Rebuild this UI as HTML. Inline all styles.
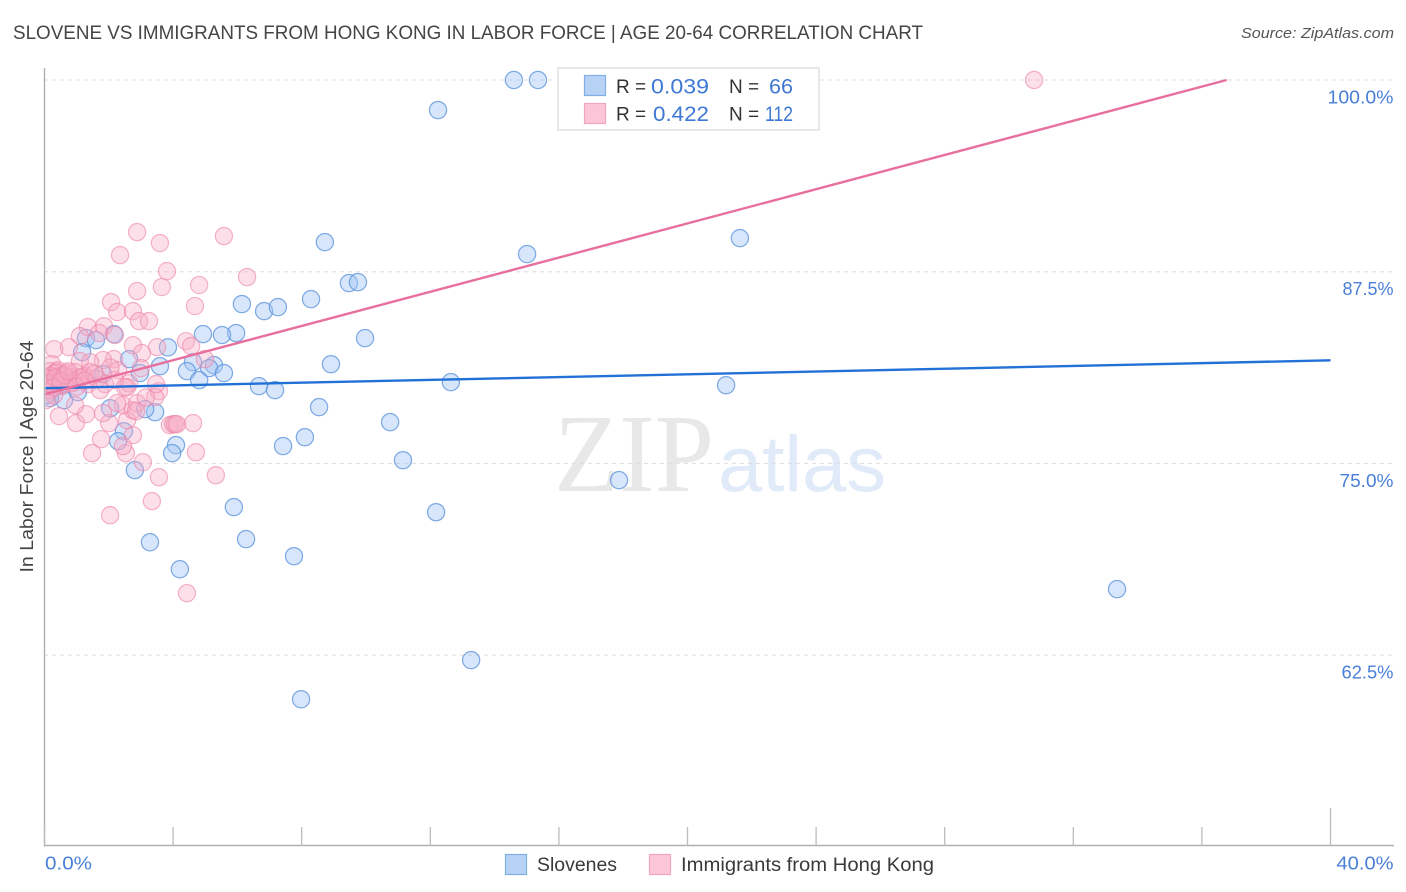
<!DOCTYPE html>
<html lang="en">
<head>
<meta charset="utf-8">
<title>Slovene vs Immigrants from Hong Kong in Labor Force | Age 20-64 Correlation Chart</title>
<style>
  html,body{margin:0;padding:0;background:#fff;}
  body{width:1406px;height:892px;overflow:hidden;}
  svg{display:block;font-family:"Liberation Sans",sans-serif;}
</style>
</head>
<body>
<svg id="chart" width="1406" height="892" viewBox="0 0 1406 892" xmlns="http://www.w3.org/2000/svg">
  <defs>
    <clipPath id="plot-clip"><rect x="45.5" y="60" width="1350" height="786"/></clipPath>
  </defs>
  <rect x="0" y="0" width="1406" height="892" fill="#ffffff"/>
  <text x="13" y="39" font-size="19.5" fill="#454545" textLength="910" lengthAdjust="spacingAndGlyphs">SLOVENE VS IMMIGRANTS FROM HONG KONG IN LABOR FORCE | AGE 20-64 CORRELATION CHART</text>
  <text x="1241" y="38" font-size="15" font-style="italic" fill="#555" textLength="153" lengthAdjust="spacingAndGlyphs">Source: ZipAtlas.com</text>

  <g id="watermark">
    <text x="554" y="491" font-family="'Liberation Serif',serif" font-size="111" fill="#e8e8e8" textLength="160" lengthAdjust="spacingAndGlyphs">ZIP</text>
    <text x="718" y="491" font-family="'Liberation Sans',sans-serif" font-size="79" fill="#e0eaf8" textLength="168" lengthAdjust="spacingAndGlyphs">atlas</text>
  </g>

  <g id="grid"></g>
  <g id="axes"></g>
  <text transform="translate(33,456.5) rotate(-90)" font-size="18.5" fill="#454545" text-anchor="middle" textLength="232" lengthAdjust="spacingAndGlyphs">In Labor Force | Age 20-64</text>

  <g clip-path="url(#plot-clip)">
    <g id="points-blue"></g>
    <g id="points-pink"></g>
    <path id="trend-blue" fill="none" stroke="#2271d6" stroke-width="2.4"/>
    <path id="trend-pink" fill="none" stroke="#e8709e" stroke-width="2.4"/>
  </g>

  <g id="legend-top">
    <rect x="558" y="68" width="261" height="62" fill="#ffffff" stroke="#dcdcdc" stroke-width="1.3"/>
    <rect x="584.5" y="75.5" width="21" height="20" fill="#b8d2f6" stroke="#82aee6" stroke-width="1.2"/>
    <rect x="584.5" y="103.5" width="21" height="20" fill="#fcc6d8" stroke="#f2a5be" stroke-width="1.2"/>
    <text x="616" y="93" font-size="19" fill="#333">R =</text>
    <text x="651" y="93.5" font-size="21" fill="#3d78d4" textLength="58" lengthAdjust="spacingAndGlyphs">0.039</text>
    <text x="729" y="93" font-size="19" fill="#333">N =</text>
    <text x="769" y="93.5" font-size="21" fill="#3d78d4" textLength="24" lengthAdjust="spacingAndGlyphs">66</text>
    <text x="616" y="120.5" font-size="19" fill="#333">R =</text>
    <text x="653" y="121" font-size="21" fill="#3d78d4" textLength="56" lengthAdjust="spacingAndGlyphs">0.422</text>
    <text x="729" y="120.5" font-size="19" fill="#333">N =</text>
    <text x="765" y="121" font-size="21" fill="#3d78d4" textLength="28" lengthAdjust="spacingAndGlyphs">112</text>
  </g>

  <g id="legend-bottom">
    <rect x="505.5" y="854.5" width="21" height="20" fill="#b8d2f6" stroke="#82aee6" stroke-width="1.2"/>
    <text x="537" y="871" font-size="19" fill="#3a3a3a" textLength="80" lengthAdjust="spacingAndGlyphs">Slovenes</text>
    <rect x="649.5" y="854.5" width="21" height="20" fill="#fcc6d8" stroke="#f2a5be" stroke-width="1.2"/>
    <text x="681" y="871" font-size="19" fill="#3a3a3a" textLength="253" lengthAdjust="spacingAndGlyphs">Immigrants from Hong Kong</text>
  </g>
</svg>

<script>
// Chart data (percent values)
const blueX = [14.60,15.35,12.24,8.72,15.01,21.63,9.47,9.75,8.29,6.14,6.83,7.26,9.97,5.96,5.52,4.93,2.16,1.29,1.60,8.91,3.59,2.63,1.17,4.62,5.27,5.12,4.43,5.58,4.81,2.97,1.82,6.67,7.17,12.64,21.20,8.54,10.75,3.44,3.13,2.04,0.61,0.17,8.10,7.42,4.09,3.97,2.47,2.29,2.81,11.15,17.87,5.89,12.18,3.28,6.27,7.76,4.21,33.36,13.27,7.98,0.05,0.86,0.36,0.48,1.04,3.84];
const blueY = [100,100,98.04,89.43,88.65,89.69,86.76,86.82,85.71,85.39,84.93,85.19,83.17,83.50,83.37,83.43,83.43,83.17,83.04,81.47,81.34,81.80,82.26,81.60,81.41,81.21,81.02,80.89,80.43,80.89,80.82,80.04,79.78,80.30,80.10,78.67,77.69,78.34,78.54,78.60,79.13,79.26,76.71,76.13,76.19,75.67,77.10,76.45,74.56,75.21,73.91,72.15,71.82,69.86,70.06,68.95,68.10,66.80,62.17,59.62,79.45,80.43,80.56,80.10,79.65,82.57];
const pinkX = [30.78,2.88,5.58,3.59,2.35,3.81,6.30,3.65,2.88,4.81,4.68,2.07,2.26,2.75,2.94,3.25,1.35,1.85,1.10,1.70,2.19,0.76,0.30,2.75,3.50,4.40,4.56,3.03,4.99,2.16,1.82,1.10,1.42,0.23,3.00,2.29,2.63,2.57,3.56,3.44,0.45,0.98,1.29,2.01,1.76,1.48,2.53,2.44,2.75,2.57,2.44,3.06,3.56,3.34,2.04,4.43,4.71,5.33,4.62,3.90,4.00,4.06,4.12,0.95,1.82,2.26,2.75,2.88,0.17,0.30,0.42,0.11,0.23,0.36,0.48,0.61,0.67,0.79,0.86,0.54,0.17,0.95,1.04,1.23,1.35,1.42,1.63,1.88,2.19,2.50,1.73,0.30,0.05,3.47,0.20,0.55,0.70,0.40,0.90,1.10,1.55,0.12,0.33,0.62,0.28,0.50,0.74,1.00,1.26,2.05,2.85,3.15];
const pinkY = [100,90.08,89.82,89.37,88.58,87.54,87.15,86.50,86.24,86.63,85.26,85.52,84.87,84.93,84.28,84.28,83.89,83.95,83.30,83.50,83.37,82.58,82.45,82.71,82.58,82.97,82.65,82.19,81.80,81.80,81.74,81.67,81.60,81.47,81.21,81.08,80.23,79.97,79.71,79.33,78.08,77.63,78.21,77.63,76.58,75.67,75.67,76.13,76.84,77.82,78.80,75.08,74.10,72.54,71.62,66.54,75.73,74.23,77.63,77.50,77.56,77.56,77.56,78.80,78.28,78.93,78.47,78.93,81.02,80.89,81.08,80.56,80.30,80.43,80.69,80.37,80.89,80.63,80.24,80.04,79.78,80.95,80.43,80.69,80.17,80.95,80.50,80.17,80.43,79.97,79.78,79.45,79.13,80.17,80.70,80.15,80.50,80.95,80.30,80.60,80.85,80.25,80.60,80.75,79.95,80.35,81.00,80.00,80.40,81.25,78.40,79.30];
const blueTrendX = [0,40];
const blueTrendY = [79.9,81.72];
const pinkTrendX = [0,36.77];
const pinkTrendY = [79.5,100];
const yTicks = [100,87.5,75,62.5];
const yTickLabels = ["100.0%","87.5%","75.0%","62.5%"];
const xTicks = [0,4,8,12,16,20,24,28,32,36,40];
const xEndTicks = [0,40];
const xEndLabels = ["0.0%","40.0%"];

const NS = 'http://www.w3.org/2000/svg';
const scaleX = v => 44.5 + v * 32.15;
const scaleY = v => 80 + (100 - v) * 15.336;
// Rendered widths that mimic the wider face of the original label font.
const labelFit = {"100.0%": 66, "87.5%": 51, "75.0%": 54, "62.5%": 52, "0.0%": 47, "40.0%": 57};

function make(tag, attrs, parent) {
  const el = document.createElementNS(NS, tag);
  for (const k in attrs) el.setAttribute(k, attrs[k]);
  parent.appendChild(el);
  return el;
}

function fit(el, text) {
  if (labelFit[text]) {
    el.setAttribute('textLength', labelFit[text]);
    el.setAttribute('lengthAdjust', 'spacingAndGlyphs');
  }
}

const gridG = document.getElementById('grid');
const axesG = document.getElementById('axes');

yTicks.forEach((t, i) => {
  const y = scaleY(t);
  const line = make('line', {x1: 44, x2: 1394, y1: y, y2: y, stroke: '#dddddd', 'stroke-width': 1, 'stroke-dasharray': '4 4'}, gridG);
  
  
  const label = make('text', {x: 1393.5, y: y + 23.5, 'font-size': 18, fill: '#4a7fd8', 'text-anchor': 'end'}, axesG);
  
  
  label.textContent = yTickLabels[i];
  fit(label, yTickLabels[i]);
});

const yAxis = make('line', {x1: 44.5, x2: 44.5, y1: 68, y2: 846.5, stroke: '#b0b0b0', 'stroke-width': 1.4}, axesG);


const xAxis = make('line', {x1: 44, x2: 1394, y1: 845.5, y2: 845.5, stroke: '#b0b0b0', 'stroke-width': 1.4}, axesG);



xTicks.forEach(t => {
  const isLast = t === xTicks[xTicks.length - 1];
  const x = scaleX(t);
  const tick = make('line', {x1: x, x2: x, y1: isLast ? 808 : 827, y2: 846, stroke: '#bcbcbc', 'stroke-width': 1.3}, axesG);
  
  
});

xEndTicks.forEach((t, i) => {
  const isFirst = i === 0;
  const label = make('text', {x: isFirst ? scaleX(t) + 0.5 : 1393.5, y: 869.5, 'font-size': 18, fill: '#4a7fd8', 'text-anchor': isFirst ? 'start' : 'end'}, axesG);
  
  
  label.textContent = xEndLabels[i];
  fit(label, xEndLabels[i]);
});

const blueG = document.getElementById('points-blue');
blueX.forEach((v, i) => {
  const c = make('circle', {cx: scaleX(v), cy: scaleY(blueY[i]), r: 8.6, fill: 'rgba(160,196,242,0.42)', stroke: '#5f95dc', 'stroke-width': 1.25, 'stroke-opacity': 0.78}, blueG);
  
  
});

const pinkG = document.getElementById('points-pink');
pinkX.forEach((v, i) => {
  const c = make('circle', {cx: scaleX(v), cy: scaleY(pinkY[i]), r: 8.6, fill: 'rgba(248,170,196,0.38)', stroke: '#ee86a8', 'stroke-width': 1.2, 'stroke-opacity': 0.62}, pinkG);
  
  
});

document.getElementById('trend-blue').setAttribute('d', 'M' + blueTrendX.map((v, i) => scaleX(v) + ' ' + scaleY(blueTrendY[i])).join(' L'));
document.getElementById('trend-pink').setAttribute('d', 'M' + pinkTrendX.map((v, i) => scaleX(v) + ' ' + scaleY(pinkTrendY[i])).join(' L'));
</script>
</body>
</html>
